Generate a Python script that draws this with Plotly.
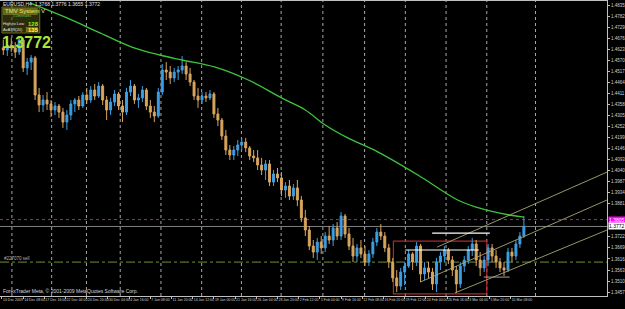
import plotly.graph_objects as go

# ---------------- data (EURUSD H4, 12h groups) ----------------
bar_index = list(range(1, 396, 3))

open_ = [1.4629,1.4619,1.4643,1.4629,1.4609,1.4667,1.4533,1.4561,1.4581,1.4403,
         1.4355,1.4379,1.4360,1.4331,1.4350,1.4321,1.4273,1.4307,1.4360,1.4379,
         1.4350,1.4403,1.4379,1.4427,1.4398,1.4446,1.4379,1.4331,1.4369,1.4408,
         1.4350,1.4321,1.4417,1.4446,1.4379,1.4389,1.4427,1.4350,1.4321,1.4302,
         1.4417,1.4523,1.4513,1.4485,1.4513,1.4523,1.4542,1.4504,1.4465,1.4398,
         1.4379,1.4398,1.4389,1.4408,1.4312,1.4283,1.4206,1.4139,1.4115,1.4139,
         1.4163,1.4177,1.4149,1.4110,1.4101,1.4067,1.4043,1.4072,1.3985,1.4024,
         1.4005,1.3947,1.3966,1.3918,1.3957,1.3899,1.3813,1.3755,1.3678,1.3649,
         1.3697,1.3669,1.3726,1.3707,1.3765,1.3726,1.3822,1.3736,1.3678,1.3630,
         1.3669,1.3640,1.3601,1.3640,1.3697,1.3745,1.3726,1.3669,1.3601,1.3525,
         1.3486,1.3553,1.3582,1.3640,1.3601,1.3678,1.3544,1.3573,1.3553,1.3496,
         1.3601,1.3630,1.3659,1.3611,1.3563,1.3496,1.3582,1.3611,1.3659,1.3688,
         1.3611,1.3573,1.3611,1.3669,1.3630,1.3601,1.3573,1.3563,1.3649,1.3630,
         1.3688,1.3726]
high = [1.4667,1.4657,1.4677,1.4657,1.4686,1.4677,1.4581,1.4595,1.4590,1.4437,
        1.4403,1.4417,1.4379,1.4369,1.4360,1.4341,1.4331,1.4379,1.4389,1.4398,
        1.4417,1.4437,1.4446,1.4456,1.4465,1.4456,1.4398,1.4389,1.4427,1.4417,
        1.4379,1.4437,1.4475,1.4456,1.4408,1.4446,1.4437,1.4379,1.4350,1.4437,
        1.4552,1.4561,1.4542,1.4533,1.4542,1.4590,1.4561,1.4533,1.4475,1.4437,
        1.4417,1.4417,1.4427,1.4417,1.4341,1.4293,1.4235,1.4163,1.4158,1.4187,
        1.4197,1.4197,1.4158,1.4139,1.4139,1.4101,1.4091,1.4091,1.4043,1.4053,
        1.4033,1.3985,1.3995,1.3976,1.3995,1.3918,1.3851,1.3774,1.3707,1.3717,
        1.3726,1.3745,1.3774,1.3784,1.3793,1.3841,1.3832,1.3765,1.3717,1.3688,
        1.3707,1.3678,1.3659,1.3717,1.3765,1.3784,1.3745,1.3688,1.3621,1.3563,
        1.3573,1.3601,1.3659,1.3649,1.3697,1.3688,1.3601,1.3601,1.3573,1.3621,
        1.3649,1.3678,1.3669,1.3630,1.3582,1.3601,1.3630,1.3678,1.3717,1.3707,
        1.3649,1.3630,1.3688,1.3688,1.3659,1.3621,1.3601,1.3669,1.3669,1.3707,
        1.3745,1.3822]
low = [1.4595,1.4590,1.4609,1.4581,1.4595,1.4513,1.4499,1.4523,1.4379,1.4321,
       1.4321,1.4331,1.4297,1.4307,1.4293,1.4245,1.4235,1.4283,1.4321,1.4331,
       1.4341,1.4360,1.4365,1.4379,1.4389,1.4355,1.4283,1.4307,1.4350,1.4331,
       1.4273,1.4307,1.4398,1.4360,1.4341,1.4369,1.4331,1.4293,1.4273,1.4293,
       1.4403,1.4475,1.4456,1.4465,1.4475,1.4504,1.4475,1.4446,1.4379,1.4341,
       1.4360,1.4369,1.4379,1.4293,1.4254,1.4187,1.4115,1.4091,1.4091,1.4110,
       1.4139,1.4129,1.4091,1.4081,1.4043,1.4019,1.3995,1.3966,1.3966,1.3985,
       1.3918,1.3909,1.3899,1.3899,1.3870,1.3793,1.3726,1.3659,1.3621,1.3611,
       1.3640,1.3649,1.3688,1.3678,1.3707,1.3707,1.3717,1.3659,1.3601,1.3601,
       1.3621,1.3582,1.3582,1.3621,1.3678,1.3707,1.3649,1.3573,1.3505,1.3457,
       1.3467,1.3491,1.3573,1.3563,1.3582,1.3505,1.3515,1.3525,1.3467,1.3457,
       1.3563,1.3601,1.3592,1.3534,1.3453,1.3477,1.3553,1.3592,1.3630,1.3582,
       1.3534,1.3553,1.3582,1.3601,1.3573,1.3553,1.3534,1.3553,1.3601,1.3611,
       1.3669,1.3717]
close = [1.4619,1.4643,1.4629,1.4609,1.4667,1.4533,1.4561,1.4581,1.4403,1.4355,
         1.4379,1.4360,1.4331,1.4350,1.4321,1.4273,1.4307,1.4360,1.4379,1.4350,
         1.4403,1.4379,1.4427,1.4398,1.4446,1.4379,1.4331,1.4369,1.4408,1.4350,
         1.4321,1.4417,1.4446,1.4379,1.4389,1.4427,1.4350,1.4321,1.4302,1.4417,
         1.4523,1.4513,1.4485,1.4513,1.4523,1.4542,1.4504,1.4465,1.4398,1.4379,
         1.4398,1.4389,1.4408,1.4312,1.4283,1.4206,1.4139,1.4115,1.4139,1.4163,
         1.4177,1.4149,1.4110,1.4101,1.4067,1.4043,1.4072,1.3985,1.4024,1.4005,
         1.3947,1.3966,1.3918,1.3957,1.3899,1.3813,1.3755,1.3678,1.3649,1.3697,
         1.3669,1.3726,1.3707,1.3765,1.3726,1.3822,1.3736,1.3678,1.3630,1.3669,
         1.3640,1.3601,1.3640,1.3697,1.3745,1.3726,1.3669,1.3601,1.3525,1.3486,
         1.3553,1.3582,1.3640,1.3601,1.3678,1.3544,1.3573,1.3553,1.3496,1.3601,
         1.3630,1.3659,1.3611,1.3563,1.3496,1.3582,1.3611,1.3659,1.3688,1.3611,
         1.3573,1.3611,1.3669,1.3630,1.3601,1.3573,1.3563,1.3649,1.3630,1.3688,
         1.3726,1.3772]

ma_bar = [21, 49, 74, 98, 119, 136, 161, 186, 211, 229, 244, 261, 284, 314, 344, 358, 383, 394]
ma_val = [1.4845, 1.4773, 1.4701, 1.4633, 1.4595, 1.4571, 1.4537, 1.4475, 1.4389, 1.4331,
          1.4259, 1.4197, 1.4129, 1.4019, 1.3899, 1.3865, 1.3827, 1.3817]

x_tick_bars = [0, 16, 32, 48, 64, 80, 96, 112, 128, 144, 160, 176, 192, 208, 224, 240,
               256, 272, 288, 304, 320, 336, 352, 368, 384]
x_tick_text = ["10 Dec 2009", "14 Dec 08:00", "17 Dec 16:00", "22 Dec 04:00", "24 Dec 20:00",
               "30 Dec 04:00", "4 Jan 16:00", "7 Jan 08:00", "11 Jan 20:00", "14 Jan 12:00",
               "19 Jan 00:00", "21 Jan 16:00", "26 Jan 04:00", "28 Jan 20:00", "2 Feb 12:00",
               "5 Feb 04:00", "9 Feb 16:00", "12 Feb 08:00", "16 Feb 20:00", "19 Feb 12:00",
               "24 Feb 00:00", "26 Feb 16:00", "3 Mar 04:00", "5 Mar 20:00", "10 Mar 08:00"]

y_tick_vals = [1.4835, 1.4782, 1.4729, 1.4676, 1.4623, 1.4570, 1.4517, 1.4464, 1.4411,
               1.4358, 1.4305, 1.4252, 1.4199, 1.4146, 1.4093, 1.4040, 1.3987, 1.3934,
               1.3881, 1.3722, 1.3669, 1.3616, 1.3563, 1.3510, 1.3457]

week_bars = [7.5, 37.5, 63.75, 89.25, 120, 150.75, 180.75, 210.75, 242.25, 273.75,
             304.5, 335.25, 366, 402.75]

chan_x0 = [328.5, 315.75, 342]
chan_y0 = [1.3673, 1.3505, 1.3453]
chan_x1 = [456.75, 456.75, 456.75]
chan_y1 = [1.4033, 1.3899, 1.3755]

alarm_level = 1.3805
bid_level = 1.3772
sell_level = 1.3601
white_seg_x0 = [324.75, 304.5]
white_seg_x1 = [368.25, 360.0]
white_seg_y = [1.3740, 1.3659]
gray_seg = (363.75, 383.25, 1.3529)
box = (295.5, 366.0, 1.3448, 1.3702)

X_RANGE = [-1.5, 456.75]
Y_RANGE = [1.34382, 1.48542]

# ---------------- figure ----------------
fig = go.Figure()

fig.add_trace(go.Candlestick(
    x=bar_index, open=open_, high=high, low=low, close=close,
    increasing=dict(line=dict(color="#3d9fe3", width=1), fillcolor="#3d9fe3"),
    decreasing=dict(line=dict(color="#d9a55c", width=1), fillcolor="#d9a55c"),
    whiskerwidth=0, showlegend=False, hoverinfo="skip"))

fig.add_trace(go.Scatter(x=ma_bar, y=ma_val, mode="lines", line=dict(color="#3ec43e", width=1.3, shape="spline"),
                         showlegend=False, hoverinfo="skip"))

for x0, y0, x1, y1 in zip(chan_x0, chan_y0, chan_x1, chan_y1):
    fig.add_trace(go.Scatter(x=[x0, x1], y=[y0, y1], mode="lines",
                             line=dict(color="#a9a672", width=0.9),
                             showlegend=False, hoverinfo="skip"))

for x0, x1, y in zip(white_seg_x0, white_seg_x1, white_seg_y):
    fig.add_trace(go.Scatter(x=[x0, x1], y=[y, y], mode="lines", line=dict(color="#ffffff", width=1.2),
                             showlegend=False, hoverinfo="skip"))
fig.add_trace(go.Scatter(x=[gray_seg[0], gray_seg[1]], y=[gray_seg[2], gray_seg[2]], mode="lines",
                         line=dict(color="#a0a0a0", width=1), showlegend=False, hoverinfo="skip"))

shapes = []
for wb in week_bars:
    shapes.append(dict(type="line", xref="x", yref="paper", x0=wb, x1=wb, y0=0, y1=1,
                       line=dict(color="rgba(210,210,210,0.8)", width=1, dash="dot"), layer="below"))
shapes.append(dict(type="line", xref="paper", yref="y", x0=0, x1=1, y0=alarm_level, y1=alarm_level,
                   line=dict(color="#9a2a9a", width=1, dash="dot"), layer="below"))
shapes.append(dict(type="line", xref="paper", yref="y", x0=0, x1=1, y0=bid_level, y1=bid_level,
                   line=dict(color="#808080", width=1), layer="below"))
shapes.append(dict(type="line", xref="paper", yref="y", x0=0, x1=1, y0=sell_level, y1=sell_level,
                   line=dict(color="#6f8f3a", width=1, dash="dashdot"), layer="below"))
shapes.append(dict(type="rect", xref="x", yref="y", x0=box[0], x1=box[1], y0=box[2], y1=box[3],
                   line=dict(color="#b02a2a", width=1.2), fillcolor="rgba(0,0,0,0)", layer="below"))
# info panel
shapes.append(dict(type="rect", xref="paper", yref="paper", x0=2/611, x1=40/611, y0=(296-33)/295, y1=(296-7)/295,
                   line=dict(color="#6b6b20", width=1), fillcolor="rgba(80,80,20,0.55)"))
shapes.append(dict(type="rect", xref="paper", yref="paper", x0=3/611, x1=38/611, y0=(296-15)/295, y1=(296-8)/295,
                   line=dict(width=0), fillcolor="rgba(110,110,30,0.9)"))
shapes.append(dict(type="rect", xref="paper", yref="paper", x0=26/611, x1=38/611, y0=(296-32)/295, y1=(296-27)/295,
                   line=dict(width=0), fillcolor="rgba(130,120,20,0.9)"))

F = "Liberation Sans"
ann = []
def ptxt(x, y, t, size=5, color="#d0d0d0", bold=False, **kw):
    ann.append(dict(xref="paper", yref="paper", x=x/611, y=(296-y)/295, text=("<b>%s</b>" % t) if bold else t,
                    showarrow=False, xanchor="left", yanchor="middle", borderpad=0,
                    font=dict(family=F, size=size, color=color), **kw))

ptxt(2, 4, "EURUSD,H4  1.3768 1.3776 1.3655 1.3772", size=5, color="#e0e0e0")
ptxt(4, 11.5, "TMV System V", size=6, color="#e8e870")
ptxt(12, 16.5, "5 Dimensions", size=3, color="#60d060")
ptxt(2.5, 23.5, "High to Low", size=4, color="#e0e0e0")
ptxt(27, 23.5, "128", size=6, color="#7cfc00", bold=True)
ptxt(2.5, 29.5, "AvATR(20)", size=4, color="#e0e0e0")
ptxt(27, 29.5, "135", size=6, color="#ffff40", bold=True)
ptxt(1, 42, "1.3772", size=16, color="#a8e63a", bold=True)
ptxt(3, 258, "#227070 sell", size=4.5, color="#b0b0b0")
ptxt(2, 290.5, "ForexTrader Meta, \u00a9 2001-2009 MetaQuotes Software Corp.", size=5, color="#d8d8d8")

ann.append(dict(xref="paper", yref="y", x=612.5/611, y=alarm_level, text="1.3805", showarrow=False,
                xanchor="left", yanchor="middle", bgcolor="#ff00ff", borderpad=0,
                font=dict(family=F, size=5, color="#ffffff")))
ann.append(dict(xref="paper", yref="y", x=612.5/611, y=bid_level, text="1.3772", showarrow=False,
                xanchor="left", yanchor="middle", bgcolor="#ffffff", borderpad=0,
                font=dict(family=F, size=5, color="#000000")))

fig.update_layout(
    width=625, height=309,
    margin=dict(l=0, r=14, t=1, b=13),
    paper_bgcolor="#000000", plot_bgcolor="#000000",
    shapes=shapes, annotations=ann, showlegend=False,
    xaxis=dict(range=X_RANGE, rangeslider=dict(visible=False), showgrid=False, zeroline=False,
               tickmode="array", tickvals=x_tick_bars, ticktext=x_tick_text, tickangle=0,
               ticks="outside", ticklen=2, tickcolor="#c0c0c0",
               ticklabelposition="outside right",
               tickfont=dict(family=F, size=3.5, color="#d0d0d0"),
               showline=True, linecolor="#c0c0c0", linewidth=1, mirror=True),
    yaxis=dict(range=Y_RANGE, side="right", showgrid=False, zeroline=False,
               tickmode="array", tickvals=y_tick_vals, ticktext=["%.4f" % v for v in y_tick_vals],
               ticks="outside", ticklen=2, tickcolor="#c0c0c0",
               tickfont=dict(family=F, size=4.5, color="#d0d0d0"),
               showline=True, linecolor="#c0c0c0", linewidth=1),
)

fig.write_html("out.html")
